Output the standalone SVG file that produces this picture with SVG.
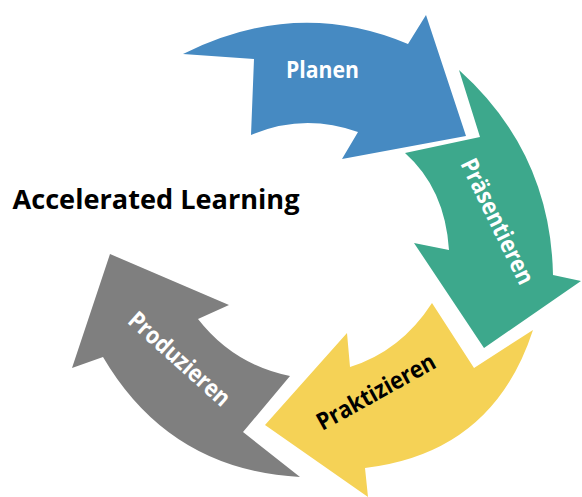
<svg xmlns="http://www.w3.org/2000/svg" width="582" height="497" viewBox="0 0 582 497">
  <style>
    .lbl { font-family: "Open Sans", "Lato", "Liberation Sans", sans-serif; font-weight: 700; font-size: 24px; text-anchor: middle; }
    .white { fill: #ffffff; }
    .dark { fill: #000000; }
    .title { font-family: "Open Sans", "Lato", "Liberation Sans", sans-serif; font-weight: 700; font-size: 26px; fill: #000000; }
  </style>
  <rect width="582" height="497" fill="#ffffff"/>

  <!-- cycle steps: curved block arrows running clockwise -->
  <g id="planen">
    <path d="M183,54 Q296.5,-3 408,44 L426,15 L466,136 L342,159 L358,132 Q303.5,112.5 251,135 L254,59 Z" fill="#468AC2"/>
    <text class="lbl white" x="322.5" y="77.7" textLength="73" lengthAdjust="spacingAndGlyphs">Planen</text>
  </g>

  <g id="praesentieren">
    <path d="M459,70 Q550.6,152.1 553,275 L581,281 L484,348 L414,243 L449,250 Q445,188.5 405,153 L480,137 Z" fill="#3DA88C"/>
    <text class="lbl white" transform="translate(490,225) rotate(64)" x="0" y="0" textLength="137" lengthAdjust="spacingAndGlyphs">Präsentieren</text>
  </g>

  <g id="praktizieren">
    <path d="M432,303 Q401,351 350,367 L347,333 L265,425 L368,497 L365,468 Q493,453 533,330 L474,368 Z" fill="#F5D256"/>
    <text class="lbl dark" transform="translate(380,399) rotate(-29)" x="0" y="0" textLength="132" lengthAdjust="spacingAndGlyphs">Praktizieren</text>
  </g>

  <g id="produzieren">
    <path d="M110,254 L229,305 L198,319 Q233.4,364.5 290,376 L243,432 L300,477 Q169.3,470 103,357 L72,368 Z" fill="#7F7F7F"/>
    <text class="lbl white" transform="translate(174,365) rotate(42)" x="0" y="0" textLength="128" lengthAdjust="spacingAndGlyphs">Produzieren</text>
  </g>

  <g id="connectors"></g>

  <g id="title">
    <text class="title" x="12.5" y="209.3" textLength="287" lengthAdjust="spacingAndGlyphs">Accelerated Learning</text>
  </g>
</svg>
